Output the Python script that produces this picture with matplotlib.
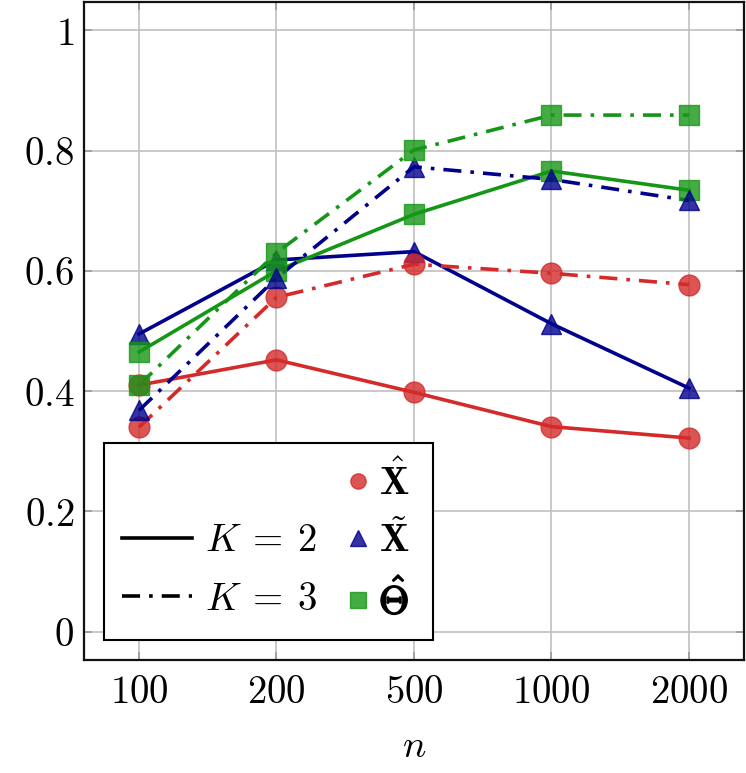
import matplotlib
matplotlib.use("Agg")
import matplotlib.pyplot as plt
from matplotlib.lines import Line2D
from matplotlib.patches import Rectangle
import matplotlib.patheffects as pe

plt.rcParams['mathtext.fontset'] = 'cm'
plt.rcParams['font.family'] = ['DejaVu Serif']

n_labels = ['100', '200', '500', '1000', '2000']
y_ticks = [0, 0.2, 0.4, 0.6, 0.8, 1.0]
y_tick_labels = ['0', '0.2', '0.4', '0.6', '0.8', '1']

# K = 2 (solid)
xhat_k2 = [0.41, 0.452, 0.398, 0.341, 0.322]
xtil_k2 = [0.495, 0.618, 0.632, 0.512, 0.405]
theta_k2 = [0.465, 0.600, 0.694, 0.766, 0.734]
# K = 3 (dash-dot)
xhat_k3 = [0.340, 0.556, 0.611, 0.596, 0.577]
xtil_k3 = [0.368, 0.588, 0.773, 0.752, 0.717]
theta_k3 = [0.410, 0.630, 0.801, 0.859, 0.859]

red = '#d42a2a'
blue = '#00008c'
green = '#169616'

fig = plt.figure(figsize=(7.46, 7.73), dpi=100)
ax = fig.add_axes([0.1126, 0.1462, 0.8847, 0.8512])

x = list(range(len(n_labels)))
dashdot = (0, (5, 2.5, 1, 2.5))
lw = 2.6
ms = 15
series = [
    (xhat_k2, red, 'o', '-'), (xtil_k2, blue, '^', '-'), (theta_k2, green, 's', '-'),
    (xhat_k3, red, 'o', dashdot), (xtil_k3, blue, '^', dashdot), (theta_k3, green, 's', dashdot),
]
for vals, c, m, ls in series:
    ax.plot(x, vals, color=c, lw=lw, linestyle=ls, zorder=3)
    ax.plot(x, vals, linestyle='none', marker=m, ms=ms, color=c, alpha=0.8,
            markeredgewidth=1.0, zorder=4)

ax.set_xlim(-0.4, 4.4)
ax.set_ylim(-0.047, 1.047)
ax.set_xticks(x)
ax.set_xticklabels(['$%s$' % s for s in n_labels])
ax.set_yticks(y_ticks)
ax.set_yticklabels(['$%s$' % s for s in y_tick_labels])
ax.tick_params(direction='in', length=6, width=1.2, color='#999999', labelsize=28,
               top=True, right=True)
ax.tick_params(axis='y', pad=7)
ax.tick_params(axis='x', pad=10)
ax.grid(True, color='#c0c0c0', lw=1.2, zorder=0)
ax.set_axisbelow(True)
for sp in ax.spines.values():
    sp.set_linewidth(1.6)
    sp.set_color('#111111')
ax.set_xlabel('$n$', fontsize=28, labelpad=12)

# legend frame
frame = Rectangle((0.0303, 0.0304), 0.4985, 0.2994, transform=ax.transAxes,
                  facecolor='white', edgecolor='black', lw=1.5, zorder=9)
ax.add_patch(frame)

line_handles = [
    Line2D([], [], color='black', lw=lw, linestyle='-'),
    Line2D([], [], color='black', lw=lw, linestyle=dashdot),
]
line_labels = [r'$K\:=\:2$', r'$K\:=\:3$']
leg1 = ax.legend(line_handles, line_labels, loc='center left',
                 bbox_to_anchor=(0.057, 0.1368), fontsize=28, frameon=False,
                 handlelength=1.8, handletextpad=0.35, labelspacing=0.55,
                 borderpad=0, borderaxespad=0)
leg1.set_zorder(10)
ax.add_artist(leg1)

mark_handles = [
    Line2D([], [], linestyle='none', marker='o', color=red, alpha=0.8, ms=11),
    Line2D([], [], linestyle='none', marker='^', color=blue, alpha=0.8, ms=11),
    Line2D([], [], linestyle='none', marker='s', color=green, alpha=0.8, ms=11),
]
mark_labels = [r'$\hat{\mathbf{X}}$', r'$\tilde{\mathbf{X}}$', r'$\hat{\Theta}$']
leg2 = ax.legend(mark_handles, mark_labels, loc='center left',
                 bbox_to_anchor=(0.391, 0.1809), fontsize=28, frameon=False,
                 handlelength=0.8, handletextpad=0.15, labelspacing=0.45,
                 borderpad=0, borderaxespad=0, numpoints=1)
leg2.set_zorder(10)
leg2.get_texts()[2].set_path_effects([pe.withStroke(linewidth=1.3, foreground='black')])

fig.savefig('out.png', dpi=100)
